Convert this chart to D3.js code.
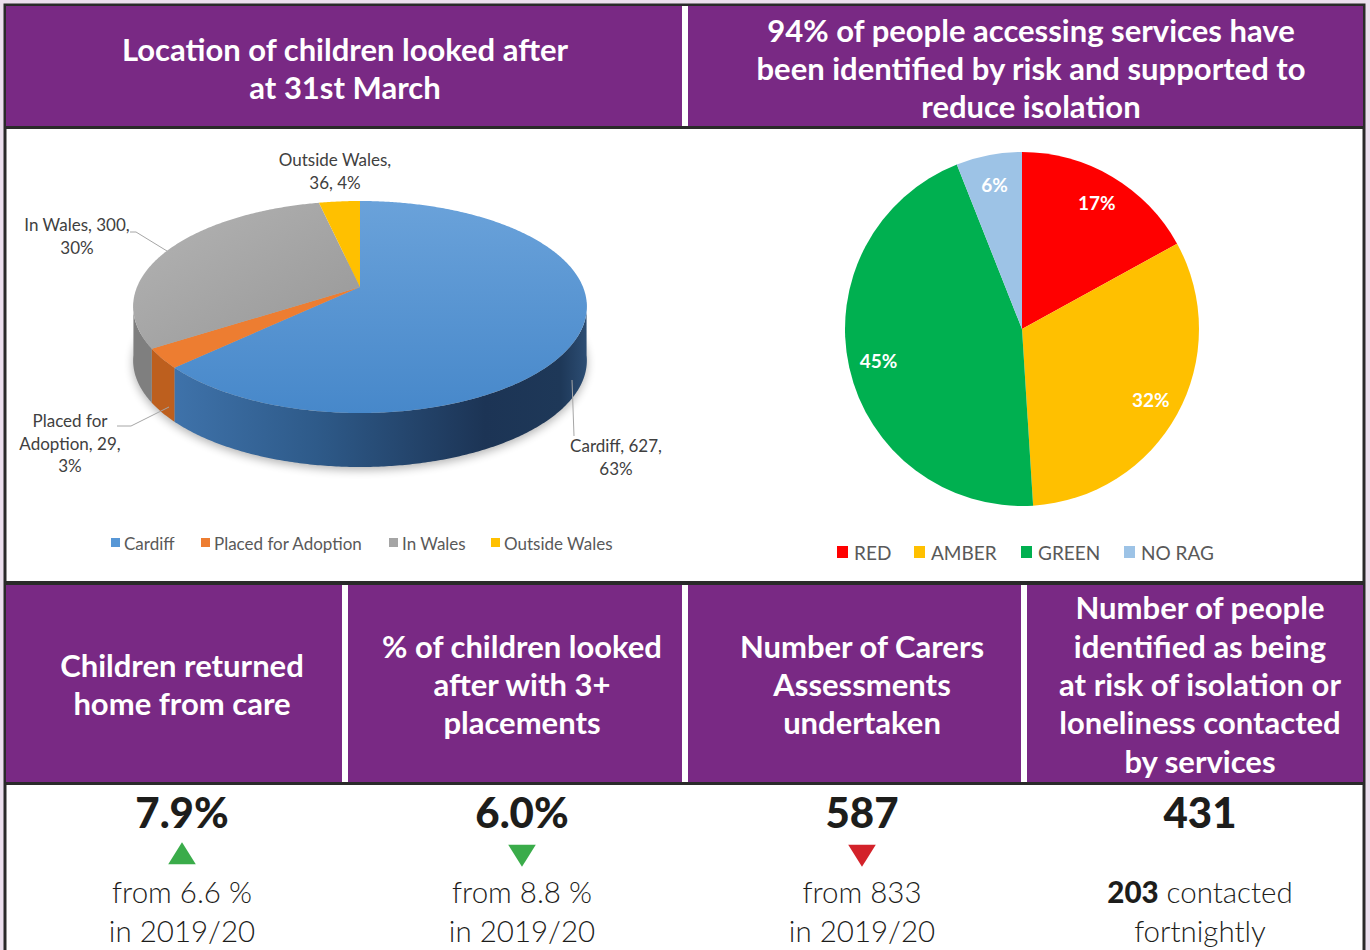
<!DOCTYPE html>
<html>
<head>
<meta charset="utf-8">
<script src="https://cdn.jsdelivr.net/npm/d3@7"></script>
<style>
  html, body { margin: 0; padding: 0; background: #ecdfee; }
  svg { display: block; }
</style>
</head>
<body>
<div id="chart"></div>
<script>
// location of children looked after
const locationNames = ["Cardiff", "Placed for Adoption", "In Wales", "Outside Wales"];
const locationCounts = [627, 29, 300, 36];
const locationPct = [63, 3, 30, 4];
const locationTop = ["#5797d6", "#ed7d31", "#a5a5a5", "#ffc000"];
const locationSide = ["#2c5687", "#bd5f1e", "#7f7f7f", "#c79600"];

// RAG split
const ragNames = ["RED", "AMBER", "GREEN", "NO RAG"];
const ragPct = [17, 32, 45, 6];
const ragColors = ["#ff0000", "#ffc000", "#00b050", "#9dc3e6"];

// headers + KPI tiles
const topHeaders = [
  ["Location of children looked after", "at 31st March"],
  ["94% of people accessing services have", "been identified by risk and supported to", "reduce isolation"]
];
const kpiHeaders = [
  ["Children returned", "home from care"],
  ["% of children looked", "after with 3+", "placements"],
  ["Number of Carers", "Assessments", "undertaken"],
  ["Number of people", "identified as being", "at risk of isolation or", "loneliness contacted", "by services"]
];
const kpiValues = ["7.9%", "6.0%", "587", "431"];
const kpiArrows = ["up", "down", "down", null];
const kpiArrowColors = ["#3aac4a", "#3aac4a", "#d3222a", null];
const kpiNotes = [
  [["from 6.6 %"], ["in 2019/20"]],
  [["from 8.8 %"], ["in 2019/20"]],
  [["from 833"], ["in 2019/20"]],
  [["203", " contacted"], ["fortnightly"]]
];

const W = 1370, H = 950;
const purple = "#792984", dark = "#2a2a2a";
const hdrFont = "Lato, 'Open Sans', sans-serif";

const svg = d3.select("#chart").append("svg").attr("width", W).attr("height", H);
const defs = svg.append("defs");

// ---- frame ----
svg.append("rect").attr("x", 5).attr("y", 5).attr("width", 1359).attr("height", 960)
  .attr("fill", "#fff").attr("stroke", dark).attr("stroke-width", 3);

// top header band
svg.append("rect").attr("x", 6).attr("y", 6).attr("width", 1357).attr("height", 121).attr("fill", purple);
svg.append("rect").attr("x", 682).attr("y", 6).attr("width", 6).attr("height", 121).attr("fill", "#fff");
svg.append("rect").attr("x", 5).attr("y", 126).attr("width", 1359).attr("height", 3).attr("fill", dark);

// KPI header band
svg.append("rect").attr("x", 5).attr("y", 581).attr("width", 1359).attr("height", 4).attr("fill", dark);
svg.append("rect").attr("x", 6).attr("y", 585).attr("width", 1357).attr("height", 197).attr("fill", purple);
svg.append("rect").attr("x", 5).attr("y", 782).attr("width", 1359).attr("height", 3).attr("fill", dark);
[342, 682, 1021].forEach(x => {
  svg.append("rect").attr("x", x).attr("y", 585).attr("width", 6).attr("height", 197).attr("fill", "#fff");
});

function headerText(lines, cx, cy) {
  const lh = 38.4;
  const t = svg.append("text").attr("text-anchor", "middle")
    .attr("font-family", hdrFont).attr("font-weight", 700).attr("font-size", 31)
    .attr("fill", "#fff");
  lines.forEach((l, i) => {
    t.append("tspan").attr("x", cx)
      .attr("y", cy + (i - (lines.length - 1) / 2) * lh + 11).text(l);
  });
}
headerText(topHeaders[0], 345, 69);
headerText(topHeaders[1], 1031, 69);

const kpiCx = [182, 522, 862, 1200];
kpiHeaders.forEach((h, i) => headerText(h, kpiCx[i], 685));

// ---- KPI values ----
kpiValues.forEach((v, i) => {
  const cx = kpiCx[i];
  svg.append("text").attr("x", cx).attr("y", 828).attr("text-anchor", "middle")
    .attr("font-family", hdrFont).attr("font-weight", 900).attr("font-size", 42)
    .attr("fill", "#1d1d1b").text(v);
  if (kpiArrows[i]) {
    const up = kpiArrows[i] === "up";
    const tri = d3.symbol().type(d3.symbolTriangle).size(330)();
    svg.append("path").attr("d", tri)
      .attr("transform", `translate(${cx},${up ? 857 : 852}) scale(1,${up ? 0.92 : -0.92})`)
      .attr("fill", kpiArrowColors[i]);
  }
  kpiNotes[i].forEach((line, j) => {
    const t = svg.append("text").attr("x", cx).attr("y", 903 + j * 39).attr("text-anchor", "middle")
      .attr("font-family", hdrFont).attr("font-weight", 300).attr("font-size", 29.5)
      .attr("fill", "#1d1d1b");
    line.forEach((seg, k) => {
      t.append("tspan").attr("font-weight", (line.length > 1 && k === 0) ? 900 : 300).text(seg);
    });
  });
});

// ---- 3D pie (left) ----
const pie3 = d3.pie().sort(null).value(d => d)(locationCounts);
const cx3 = 360, cy3 = 287, rx3 = 223, aY = 106, bY = 20, kP = 0.19, depth = 54;
function proj(theta, dz) {
  const u = Math.sin(theta), v = -Math.cos(theta);
  return [cx3 + rx3 * u * (1 + kP * v), cy3 + aY * v + bY * v * v + dz];
}
function arcPts(a0, a1, dz) {
  const n = Math.max(2, Math.ceil(Math.abs(a1 - a0) / 0.01));
  return d3.range(n + 1).map(i => proj(a0 + (a1 - a0) * i / n, dz));
}
const line = d3.line();

// shadow
const sh = defs.append("filter").attr("id", "shadow").attr("x", "-20%").attr("y", "-20%").attr("width", "140%").attr("height", "160%");
sh.append("feGaussianBlur").attr("stdDeviation", 5);
svg.append("path")
  .attr("d", line(arcPts(0, 2 * Math.PI, depth + 3)) + "Z")
  .attr("fill", "#000").attr("opacity", 0.3).attr("filter", "url(#shadow)");

// side gradient for Cardiff
const gSide = defs.append("linearGradient").attr("id", "cardSide")
  .attr("gradientUnits", "userSpaceOnUse").attr("x1", 170).attr("x2", 590).attr("y1", 0).attr("y2", 0);
[[0, "#3f73ab"], [0.35, "#2e5a89"], [0.75, "#1c3455"], [0.93, "#1e3858"], [1, "#2e5077"]]
  .forEach(([o, c]) => gSide.append("stop").attr("offset", o).attr("stop-color", c));
const gTop = defs.append("linearGradient").attr("id", "cardTop")
  .attr("x1", 0).attr("x2", 0).attr("y1", 0).attr("y2", 1);
[[0, "#6aa2da"], [1, "#4788ca"]].forEach(([o, c]) => gTop.append("stop").attr("offset", o).attr("stop-color", c));
const gGrey = defs.append("linearGradient").attr("id", "greyTop")
  .attr("x1", 0).attr("x2", 1).attr("y1", 0).attr("y2", 1);
[[0, "#b4b4b4"], [1, "#979797"]].forEach(([o, c]) => gGrey.append("stop").attr("offset", o).attr("stop-color", c));

// visible side range (front)
const visA0 = Math.PI - Math.acos(0.18), visA1 = Math.PI + Math.acos(0.18);
const sideFill = i => i === 0 ? "url(#cardSide)" : locationSide[i];
const topFill = i => i === 0 ? "url(#cardTop)" : i === 2 ? "url(#greyTop)" : locationTop[i];

const g3 = svg.append("g");
pie3.forEach((s, i) => {
  const a0 = Math.max(s.startAngle, visA0 - 0.05), a1 = Math.min(s.endAngle, visA1 + 0.05);
  if (a1 <= a0) return;
  const top = arcPts(a0, a1, 0), bot = arcPts(a0, a1, depth).reverse();
  g3.append("path").attr("d", line(top.concat(bot)) + "Z").attr("fill", sideFill(i));
});
pie3.forEach((s, i) => {
  const pts = [[cx3, cy3]].concat(arcPts(s.startAngle, s.endAngle, 0));
  g3.append("path").attr("d", line(pts) + "Z").attr("fill", topFill(i));
});

// data labels
const lblFont = "Lato, 'Open Sans', sans-serif";
const labelSpec = [
  { lines: ["Cardiff, 627,", "63%"], x: 616, y: 452, lead: [[572, 380], [574, 436]] },
  { lines: ["Placed for", "Adoption, 29,", "3%"], x: 70, y: 427, lead: [[169, 407], [131, 426], [117, 426]] },
  { lines: ["In Wales, 300,", "30%"], x: 77, y: 231, lead: [[167, 251], [136, 232], [130, 232]] },
  { lines: ["Outside Wales,", "36, 4%"], x: 335, y: 166, lead: null }
];
labelSpec.forEach(L => {
  if (L.lead) svg.append("path").attr("d", line(L.lead)).attr("fill", "none")
    .attr("stroke", "#a6a6a6").attr("stroke-width", 1);
  const t = svg.append("text").attr("text-anchor", "middle")
    .attr("font-family", lblFont).attr("font-size", 17).attr("fill", "#404040");
  L.lines.forEach((l, j) => t.append("tspan").attr("x", L.x).attr("y", L.y + j * 22.5).text(l));
});

// left legend
const legL = d3.scaleOrdinal().domain(locationNames).range([111, 201, 389, 491]);
locationNames.forEach((n, i) => {
  const x = legL(n);
  svg.append("rect").attr("x", x).attr("y", 538).attr("width", 9).attr("height", 9).attr("fill", locationTop[i]);
  svg.append("text").attr("x", x + 13).attr("y", 550).attr("font-family", lblFont)
    .attr("font-size", 17).attr("fill", "#595959").text(n);
});

// ---- flat pie (right) ----
const pie2 = d3.pie().sort(null).value(d => d)(ragPct);
const r2 = 177;
const arc2 = d3.arc().innerRadius(0).outerRadius(r2);
const g2 = svg.append("g").attr("transform", "translate(1022,329)");
g2.selectAll("path").data(pie2).join("path").attr("d", arc2).attr("fill", (d, i) => ragColors[i]);
const lblArc = d3.arc().innerRadius(r2 * 0.83).outerRadius(r2 * 0.83);
g2.selectAll("text").data(pie2).join("text")
  .attr("transform", d => { const c = lblArc.centroid(d); return `translate(${c[0]},${c[1] + 7})`; })
  .attr("text-anchor", "middle").attr("font-family", lblFont).attr("font-weight", 700)
  .attr("font-size", 19).attr("fill", "#fff").text((d, i) => ragPct[i] + "%");

const legR = d3.scaleOrdinal().domain(ragNames).range([837, 914, 1021, 1124]);
ragNames.forEach((n, i) => {
  const x = legR(n);
  svg.append("rect").attr("x", x).attr("y", 546).attr("width", 11).attr("height", 12).attr("fill", ragColors[i]);
  svg.append("text").attr("x", x + 17).attr("y", 560).attr("font-family", lblFont)
    .attr("font-size", 19).attr("fill", "#595959").text(n);
});
</script>
</body>
</html>
